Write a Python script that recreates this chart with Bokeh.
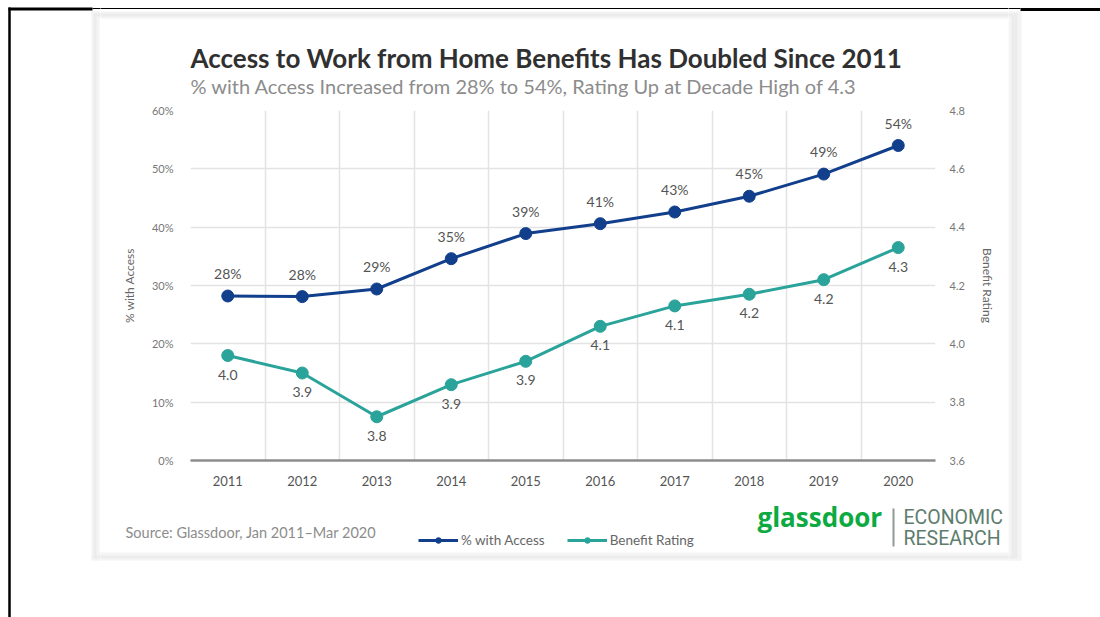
from bokeh.plotting import figure
from bokeh.layouts import column, row
from bokeh.models import (Range1d, LinearAxis, FixedTicker, PrintfTickFormatter,
                          Legend, LegendItem, ColumnDataSource)
from bokeh.core.properties import value
from bokeh.embed import file_html
from bokeh.resources import INLINE

# ---------------- data ----------------
years = [2011, 2012, 2013, 2014, 2015, 2016, 2017, 2018, 2019, 2020]
access_pct = [28.2, 28.1, 29.4, 34.6, 38.9, 40.6, 42.6, 45.3, 49.1, 54.0]
access_labels = ["28%", "28%", "29%", "35%", "39%", "41%", "43%", "45%", "49%", "54%"]
rating = [3.96, 3.90, 3.75, 3.86, 3.94, 4.06, 4.13, 4.17, 4.22, 4.33]
rating_labels = ["4.0", "3.9", "3.8", "3.9", "3.9", "4.1", "4.1", "4.2", "4.2", "4.3"]
pct_ticks = [0, 10, 20, 30, 40, 50, 60]
rating_ticks = [3.6, 3.8, 4.0, 4.2, 4.4, 4.6, 4.8]
series_names = ["% with Access", "Benefit Rating"]

title_text = "Access to Work from Home Benefits Has Doubled Since 2011"
subtitle_text = "% with Access Increased from 28% to 54%, Rating Up at Decade High of 4.3"
source_text = "Source: Glassdoor, Jan 2011\u2013Mar 2020"

# ---------------- layout constants (page pixels) ----------------
W, H = 1100, 617
FL, FR, FT, FB = 190, 935, 110, 460       # plot frame
TOP_H = 100                               # top strip height
MID_H = 400                               # chart strip height
LEFT_W, RIGHT_X = 100, 1008               # central column x extent
FONT = "Lato"
NAVY = "#123f8c"
TEAL = "#2aa39a"
CARD_OUT = "#f4f4f4"
CARD_IN = "#ececec"


def deco_fig(x0, x1, y0, y1):
    """A frame-only strip whose ranges are page pixels (y downward)."""
    f = figure(width=x1 - x0, height=y1 - y0, output_backend="svg", toolbar_location=None,
               x_range=Range1d(x0, x1), y_range=Range1d(y1, y0),
               min_border=0, min_border_left=0, min_border_right=0,
               min_border_top=0, min_border_bottom=0)
    f.axis.visible = False
    f.grid.visible = False
    f.outline_line_color = None
    f.background_fill_color = "white"
    f.border_fill_color = "white"
    # page decoration: card with soft edge, black frame lines
    f.quad(left=[91, 1008, 91, 91], right=[99, 1021, 1021, 1021],
           top=[11, 11, 11, 552], bottom=[560, 560, 18, 560],
           fill_color=CARD_OUT, line_color=None)
    f.quad(left=[93, 1011, 93, 93], right=[96, 1017, 1017, 1017],
           top=[13, 13, 13, 555], bottom=[558, 558, 16, 558],
           fill_color=CARD_IN, line_color=None)
    f.segment(x0=[8, 92, 1020], y0=[8.5, 8, 9], x1=[92, 1020, 1100], y1=[8.5, 8, 9],
              line_color="black", line_width=[3, 1.2, 3])
    f.segment(x0=[9], y0=[7], x1=[9], y1=[617], line_color="black", line_width=2.5)
    return f


# ---------------- side strips (full height) ----------------
left = deco_fig(0, LEFT_W, 0, H)
right = deco_fig(RIGHT_X, W, 0, H)

# ---------------- top strip: title & subtitle ----------------
top = deco_fig(LEFT_W, RIGHT_X, 0, TOP_H)
top.text(x=[FL], y=[57], text=[title_text], text_font=value(FONT), text_font_size="26px",
         text_font_style="bold", text_color="#303030", text_baseline="middle")
top.text(x=[FL], y=[85], text=[subtitle_text], text_font=value(FONT), text_font_size="20px",
         text_color="#8c8c8c", text_baseline="middle")

# ---------------- chart ----------------
p = figure(width=RIGHT_X - LEFT_W, height=MID_H, output_backend="svg", toolbar_location=None,
           x_range=Range1d(years[0] - 0.5, years[-1] + 0.5),
           y_range=Range1d(pct_ticks[0], pct_ticks[-1]),
           min_border_left=FL - LEFT_W, min_border_right=RIGHT_X - FR,
           min_border_top=FT - TOP_H, min_border_bottom=TOP_H + MID_H - FB)
p.outline_line_color = None
p.background_fill_color = "white"
p.border_fill_color = "white"
p.extra_y_ranges = {"rating": Range1d(rating_ticks[0], rating_ticks[-1])}

p.xgrid.ticker = FixedTicker(ticks=[years[0] - 0.5 + i for i in range(len(years) + 1)])
p.ygrid.ticker = FixedTicker(ticks=pct_ticks)
for g in (p.xgrid, p.ygrid):
    g.grid_line_color = "#e3e3e3"
    g.grid_line_width = 1.5

xa = p.xaxis[0]
xa.ticker = FixedTicker(ticks=years)
xa.axis_line_color = "#8c8c8c"
xa.axis_line_width = 2.5
xa.major_tick_line_color = None
xa.minor_tick_line_color = None
xa.major_label_standoff = 9
xa.major_label_text_font = FONT
xa.major_label_text_font_size = "13px"
xa.major_label_text_color = "#555555"

ya = p.yaxis[0]
ya.ticker = FixedTicker(ticks=pct_ticks)
ya.formatter = PrintfTickFormatter(format="%d%%")
ya.axis_line_color = None
ya.major_tick_line_color = None
ya.minor_tick_line_color = None
ya.major_label_standoff = 11
ya.major_label_text_font = FONT
ya.major_label_text_font_size = "11px"
ya.major_label_text_color = "#777777"
ya.axis_label = series_names[0]
ya.axis_label_standoff = 12
ya.axis_label_text_font = FONT
ya.axis_label_text_font_size = "12px"
ya.axis_label_text_font_style = "normal"
ya.axis_label_text_color = "#666666"

ra = LinearAxis(y_range_name="rating")
ra.ticker = FixedTicker(ticks=rating_ticks)
ra.formatter = PrintfTickFormatter(format="%.1f")
ra.axis_line_color = None
ra.major_tick_line_color = None
ra.minor_tick_line_color = None
ra.major_label_standoff = 8
ra.major_label_text_font = FONT
ra.major_label_text_font_size = "11px"
ra.major_label_text_color = "#777777"
ra.axis_label = series_names[1]
ra.axis_label_standoff = 12
ra.axis_label_text_font = FONT
ra.axis_label_text_font_size = "12px"
ra.axis_label_text_font_style = "normal"
ra.axis_label_text_color = "#666666"
p.add_layout(ra, "right")

src = ColumnDataSource(dict(year=years, access=access_pct, alab=access_labels,
                            rating=rating, rlab=rating_labels))
p.line("year", "access", source=src, line_color=NAVY, line_width=3)
p.scatter("year", "access", source=src, size=12, fill_color=NAVY, line_color=NAVY)
p.line("year", "rating", source=src, line_color=TEAL, line_width=3, y_range_name="rating")
p.scatter("year", "rating", source=src, size=12, fill_color=TEAL, line_color=TEAL,
          y_range_name="rating")
p.text("year", "access", text="alab", source=src, y_offset=-14,
       text_align="center", text_baseline="bottom", text_font=value(FONT),
       text_font_size="14px", text_color="#555555")
p.text("year", "rating", text="rlab", source=src, y_offset=14, y_range_name="rating",
       text_align="center", text_baseline="top", text_font=value(FONT),
       text_font_size="14px", text_color="#555555")

# ---------------- bottom strip: source, legend, logo ----------------
bot = deco_fig(LEFT_W, RIGHT_X, TOP_H + MID_H, H)
bot.text(x=[125], y=[532], text=[source_text], text_font=value(FONT), text_font_size="14.5px",
         text_color="#8c8c8c", text_baseline="middle")
# legend proxies: the same series, which fall outside this strip's pixel ranges
k1 = bot.line(years, access_pct, line_color=NAVY, line_width=3)
m1 = bot.scatter(years, access_pct, size=9, fill_color=NAVY, line_color=NAVY)
k2 = bot.line(years, rating, line_color=TEAL, line_width=3)
m2 = bot.scatter(years, rating, size=9, fill_color=TEAL, line_color=TEAL)
legend = Legend(items=[LegendItem(label=series_names[0], renderers=[k1, m1]),
                       LegendItem(label=series_names[1], renderers=[k2, m2])],
                orientation="horizontal", location=(418 - LEFT_W, H - 548),
                glyph_width=40, glyph_height=14, label_standoff=3, spacing=22,
                padding=0, margin=0, border_line_color=None, background_fill_alpha=0,
                label_text_font=FONT, label_text_font_size="13.5px",
                label_text_color="#666666")
bot.add_layout(legend, "center")
bot.text(x=[757], y=[516], text=["glassdoor"], text_font=value("Open Sans"),
         text_font_size="26px", text_font_style="bold", text_color="#0caa41",
         text_baseline="middle")
bot.segment(x0=[893], y0=[508], x1=[893], y1=[546], line_color="#8f9a94", line_width=2)
bot.text(x=[903, 903], y=[517, 538], text=["ECONOMIC", "RESEARCH"],
         text_font=value("Roboto"), text_font_size="19.5px",
         text_color="#5e7c6d", text_baseline="middle")

center = column(top, row(p, spacing=0), bot, spacing=0)
layout = row(left, center, right, spacing=0)
open("out.html", "w").write(file_html(layout, INLINE))
